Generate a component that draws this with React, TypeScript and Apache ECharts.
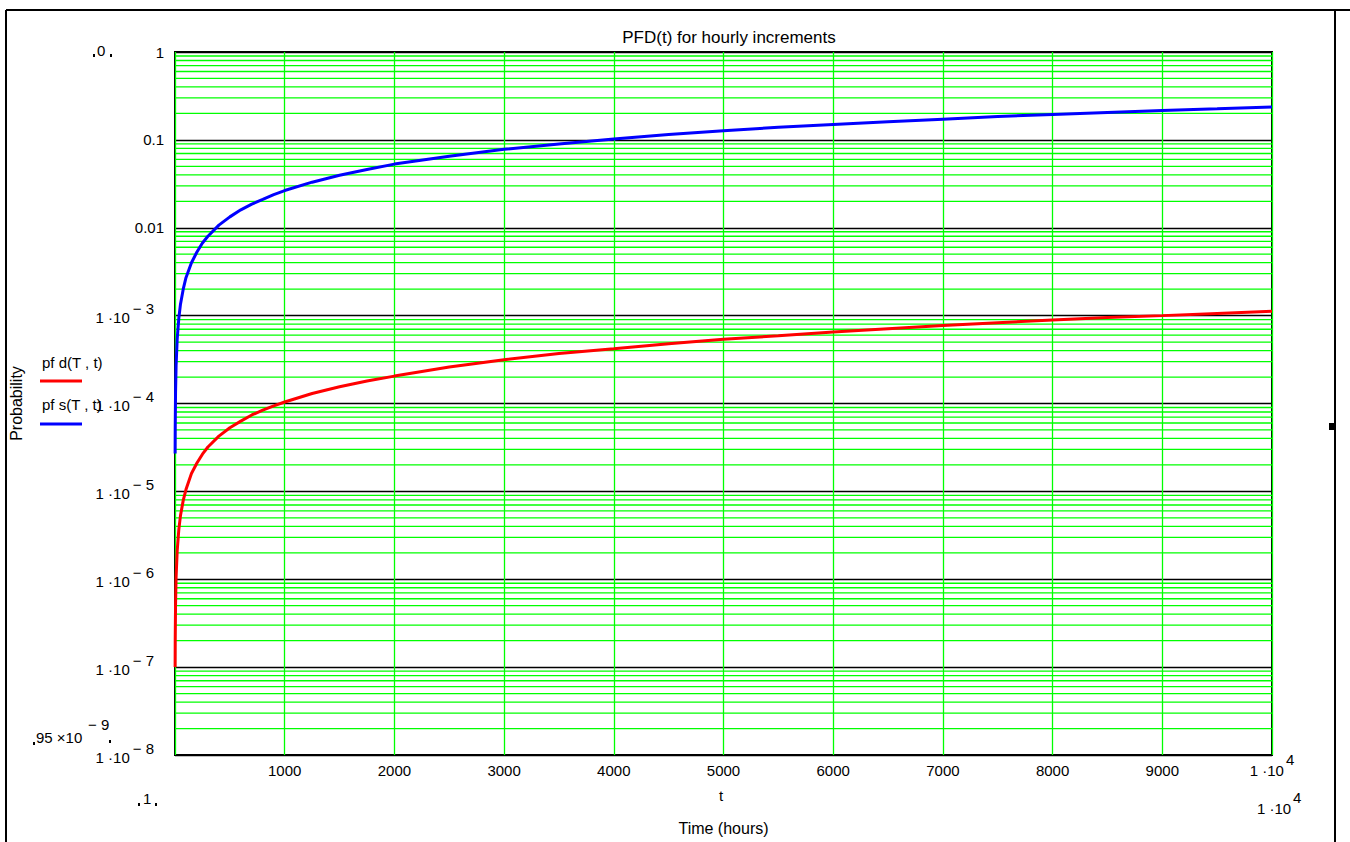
import React, { useEffect, useRef } from "react";
import * as echarts from "echarts";

// ---- data ----
const hours = [1, 2, 5, 10, 20, 35, 50, 75, 100, 150, 200, 250, 300, 400, 500, 600, 700, 800, 900, 1000, 1250, 1500, 1750, 2000, 2500, 3000, 3500, 4000, 4500, 5000, 5500, 6000, 6500, 7000, 7500, 8000, 8500, 9000, 9500, 10000];
const pfdValues = [1.0e-7, 2.1e-7, 5.2e-7, 1.05e-6, 2.1e-6, 3.7e-6, 5.3e-6, 7.9e-6, 1.05e-5, 1.6e-5, 2.1e-5, 2.65e-5, 3.2e-5, 4.25e-5, 5.3e-5, 6.3e-5, 7.4e-5, 8.4e-5, 9.4e-5, 1.04e-4, 1.3e-4, 1.55e-4, 1.8e-4, 2.05e-4, 2.6e-4, 3.15e-4, 3.7e-4, 4.2e-4, 4.8e-4, 5.4e-4, 5.9e-4, 6.5e-4, 7.1e-4, 7.7e-4, 8.3e-4, 8.9e-4, 9.5e-4, 1.0e-3, 1.06e-3, 1.12e-3];
const pfsValues = [2.7e-5, 5.4e-5, 1.35e-4, 2.7e-4, 5.4e-4, 9.4e-4, 1.35e-3, 2.0e-3, 2.7e-3, 4.0e-3, 5.3e-3, 6.7e-3, 8.0e-3, 1.07e-2, 1.33e-2, 1.6e-2, 1.86e-2, 2.1e-2, 2.38e-2, 2.65e-2, 3.3e-2, 3.95e-2, 4.6e-2, 5.3e-2, 6.5e-2, 7.8e-2, 9.0e-2, 0.102, 0.115, 0.127, 0.139, 0.15, 0.161, 0.172, 0.184, 0.195, 0.205, 0.216, 0.226, 0.237];

const seriesNames = ["pf d(T , t)", "pf s(T , t)"];
const seriesColors = ["#ff0000", "#0000ff"];
const titleText = "PFD(t) for hourly increments";
const xName = "Time (hours)";
const yName = "Probability";

const xMin = 0;
const xMax = 10000;
const xStep = 1000;
const yMin = 1e-8;
const yMax = 1;
const plainYLabels: Record<string, string> = { "0": "1", "-1": "0.1", "-2": "0.01" };
const minorMultipliers = [2, 3, 4, 5, 6, 7, 8, 9];

const FONT = "'Liberation Sans', Arial, sans-serif";
const FS = 15;

function minorLevels(): number[] {
  const out: number[] = [];
  const lo = Math.round(Math.log10(yMin));
  const hi = Math.round(Math.log10(yMax));
  for (let e = lo; e < hi; e++) {
    for (const m of minorMultipliers) out.push(m * Math.pow(10, e));
  }
  return out;
}

function yLabel(v: number): string {
  const e = Math.round(Math.log10(v));
  const key = String(e);
  if (plainYLabels[key] !== undefined) return `{p|${plainYLabels[key]}}`;
  return `{b|1 ·10}{s|− ${-e}}`;
}

function xLabel(v: number): string {
  if (v <= xMin) return "";
  if (v >= 10000) {
    const e = Math.round(Math.log10(v));
    return `{b|1 ·10}{s|${e}}`;
  }
  return `{b|${v}}`;
}

export default function App() {
  const ref = useRef<HTMLDivElement>(null);

  useEffect(() => {
    if (!ref.current) return;
    const chart = echarts.init(ref.current, undefined, { renderer: "svg" });

    const txt = (x: number, y: number, text: string, extra: any = {}) => ({
      type: "text",
      x,
      y,
      silent: true,
      style: {
        text,
        fontFamily: FONT,
        fontSize: FS,
        fill: "#000",
        textVerticalAlign: "middle",
        ...extra,
      },
    });
    const mark = (x: number, y: number) => ({
      type: "rect",
      silent: true,
      shape: { x, y, width: 2, height: 3 },
      style: { fill: "#000" },
    });
    const frameLine = (x1: number, y1: number, x2: number, y2: number, w = 2) => ({
      type: "line",
      silent: true,
      shape: { x1, y1, x2, y2 },
      style: { stroke: "#000", lineWidth: w },
    });

    const option: any = {
      animation: false,
      backgroundColor: "#fff",
      title: {
        text: titleText,
        left: 724,
        top: 24,
        textAlign: "center",
        textStyle: { fontFamily: FONT, fontSize: 17, fontWeight: "normal", color: "#000" },
      },
      grid: {
        left: 174,
        top: 52,
        right: 78,
        bottom: 87,
        show: true,
        borderColor: "#000",
        borderWidth: 2,
        backgroundColor: "transparent",
        containLabel: false,
      },
      xAxis: {
        type: "value",
        min: xMin,
        max: xMax,
        interval: xStep,
        name: xName,
        nameLocation: "middle",
        nameGap: 65,
        nameTextStyle: { fontFamily: FONT, fontSize: 16, color: "#000" },
        axisLine: { show: false },
        axisTick: { show: false },
        splitLine: { show: true, lineStyle: { color: "#00ff00", width: 1.3 } },
        axisLabel: {
          margin: -3,
          formatter: xLabel,
          color: "#000",
          fontFamily: FONT,
          fontSize: FS,
          rich: {
            b: { fontFamily: FONT, fontSize: FS, color: "#000", padding: [11, 0, 0, 0] },
            s: { fontFamily: FONT, fontSize: FS, color: "#000", padding: [0, 0, 11, 2] },
          },
        },
      },
      yAxis: {
        type: "log",
        logBase: 10,
        min: yMin,
        max: yMax,
        splitNumber: 8,
        name: yName,
        nameLocation: "middle",
        nameGap: 151,
        nameTextStyle: { fontFamily: FONT, fontSize: 16, color: "#000" },
        axisLine: { show: false },
        axisTick: { show: false },
        splitLine: { show: true, lineStyle: { color: "#000", width: 1.3 } },
        axisLabel: {
          margin: 11,
          formatter: yLabel,
          color: "#000",
          fontFamily: FONT,
          fontSize: FS,
          rich: {
            p: { fontFamily: FONT, fontSize: FS, color: "#000" },
            b: { fontFamily: FONT, fontSize: FS, color: "#000", padding: [9, 0, 5, 0] },
            s: { fontFamily: FONT, fontSize: FS, color: "#000", padding: [0, 10, 14, 3] },
          },
        },
      },
      series: [
        {
          type: "custom",
          name: "minor",
          silent: true,
          z: 1,
          data: minorLevels().map((v) => [xMin, v]),
          encode: { x: 0, y: 1 },
          renderItem: (params: any, api: any) => {
            const v = api.value(1);
            const p1 = api.coord([xMin, v]);
            const p2 = api.coord([xMax, v]);
            return {
              type: "line",
              shape: { x1: p1[0], y1: p1[1], x2: p2[0], y2: p2[1] },
              style: { stroke: "#00ff00", lineWidth: 1.3 },
            };
          },
        },
        {
          type: "line",
          name: seriesNames[0],
          z: 3,
          data: hours.map((h, i) => [h, pfdValues[i]]),
          showSymbol: false,
          smooth: false,
          lineStyle: { color: seriesColors[0], width: 3 },
          itemStyle: { color: seriesColors[0] },
        },
        {
          type: "line",
          name: seriesNames[1],
          z: 3,
          data: hours.map((h, i) => [h, pfsValues[i]]),
          showSymbol: false,
          smooth: false,
          lineStyle: { color: seriesColors[1], width: 3 },
          itemStyle: { color: seriesColors[1] },
        },
      ],
      graphic: [
        // outer frame
        frameLine(6, 10, 1350, 10),
        frameLine(6, 10, 6, 842),
        frameLine(1335, 10, 1335, 842),
        { type: "rect", silent: true, shape: { x: 1329, y: 423, width: 6, height: 7 }, style: { fill: "#000" } },
        // Mathcad placeholders
        txt(97, 50, "0"),
        mark(93, 54),
        mark(110, 54),
        txt(36, 737, "95 ×10"),
        txt(88, 724, "− 9"),
        mark(33, 742),
        mark(109, 740),
        txt(143, 798, "1"),
        mark(138, 803),
        mark(155, 803),
        // x-axis variable and upper limit
        txt(719, 795, "t"),
        txt(1257, 808, "1 ·10"),
        txt(1293, 797, "4"),
        // legend
        txt(42, 362, seriesNames[0]),
        { type: "line", silent: true, shape: { x1: 40, y1: 381, x2: 82, y2: 381 }, style: { stroke: seriesColors[0], lineWidth: 3 } },
        txt(42, 404, seriesNames[1]),
        { type: "line", silent: true, shape: { x1: 40, y1: 424, x2: 82, y2: 424 }, style: { stroke: seriesColors[1], lineWidth: 3 } },
      ],
    };

    chart.setOption(option);
    return () => chart.dispose();
  }, []);

  return (
    <div
      ref={ref}
      style={{ position: "absolute", left: 0, top: 0, width: 1350, height: 842, background: "#fff" }}
    />
  );
}
